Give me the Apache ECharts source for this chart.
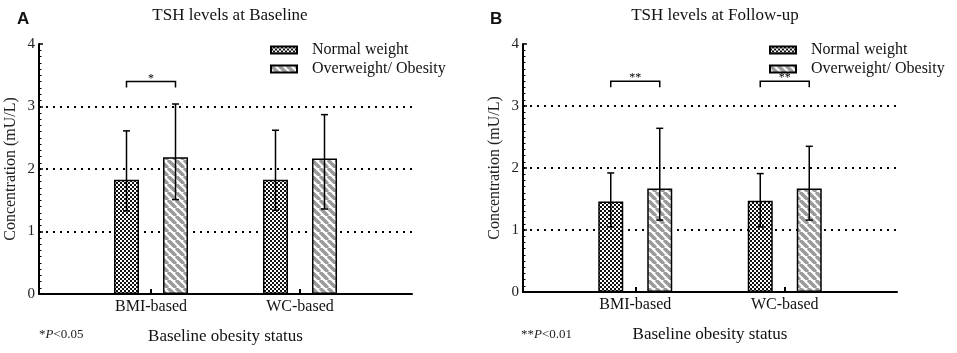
<!DOCTYPE html>
<html>
<head>
<meta charset="utf-8">
<script src="https://cdn.jsdelivr.net/npm/echarts@6/dist/echarts.min.js"></script>
<style>
  html, body { margin: 0; padding: 0; background: #fff; }
  #chart { width: 957px; height: 353px; }
</style>
</head>
<body>
<div id="chart"></div>
<script>
// categories and values (mU/L)
const categories = ['BMI-based', 'WC-based'];
const seriesNames = ['Normal weight', 'Overweight/ Obesity'];

const baseNormal = [1.83, 1.83];
const baseOver = [2.19, 2.17];
const baseNormalLow = [1.33, 1.34];
const baseNormalHigh = [2.61, 2.62];
const baseOverLow = [1.51, 1.36];
const baseOverHigh = [3.04, 2.87];
const baseSigMarks = ['*', ''];

const followNormal = [1.46, 1.47];
const followOver = [1.67, 1.67];
const followNormalLow = [1.05, 1.05];
const followNormalHigh = [1.92, 1.91];
const followOverLow = [1.16, 1.16];
const followOverHigh = [2.64, 2.35];
const followSigMarks = ['**', '**'];

const sigLevel = 3.4;
const yTicks = [0, 1, 2, 3, 4];

const SERIF = '"Liberation Serif", "DejaVu Serif", serif';
const BAR_OFFSET = 24.5;

function makeChecker() {
  const c = document.createElement('canvas');
  c.width = 4; c.height = 4;
  const ctx = c.getContext('2d');
  ctx.fillStyle = '#111';
  ctx.fillRect(0, 0, 4, 4);
  ctx.fillStyle = '#fff';
  ctx.fillRect(0, 0, 2, 2);
  ctx.fillRect(2, 2, 2, 2);
  return c;
}

function makeStripes() {
  const s = 8;
  const c = document.createElement('canvas');
  c.width = s; c.height = s;
  const ctx = c.getContext('2d');
  ctx.fillStyle = '#fff';
  ctx.fillRect(0, 0, s, s);
  ctx.strokeStyle = '#9a9a9a';
  ctx.lineWidth = 3.5;
  [-s, 0, s].forEach(d => {
    ctx.beginPath();
    ctx.moveTo(d, 0);
    ctx.lineTo(d + s, s);
    ctx.stroke();
  });
  return c;
}

const checker = { image: makeChecker(), repeat: 'repeat' };
const stripes = { image: makeStripes(), repeat: 'repeat' };

function errRender(offset) {
  return function (params, api) {
    const cx = api.coord([api.value(0), 0])[0] + offset;
    const lo = api.coord([api.value(0), api.value(1)])[1];
    const hi = api.coord([api.value(0), api.value(2)])[1];
    const st = { stroke: '#000', lineWidth: 1.5 };
    return {
      type: 'group',
      children: [
        { type: 'line', shape: { x1: cx, y1: lo, x2: cx, y2: hi }, style: st },
        { type: 'line', shape: { x1: cx - 3.5, y1: hi, x2: cx + 3.5, y2: hi }, style: st },
        { type: 'line', shape: { x1: cx - 3.5, y1: lo, x2: cx + 3.5, y2: lo }, style: st }
      ]
    };
  };
}

function sigRender(marks) {
  return function (params, api) {
    const mark = marks[params.dataIndex];
    if (!mark) return null;
    const c = api.coord([api.value(0), api.value(1)]);
    const x1 = c[0] - BAR_OFFSET, x2 = c[0] + BAR_OFFSET, y = c[1];
    const st = { stroke: '#000', lineWidth: 1.5, fill: null };
    return {
      type: 'group',
      children: [
        { type: 'polyline', shape: { points: [[x1, y + 6], [x1, y], [x2, y], [x2, y + 6]] }, style: st },
        { type: 'text', style: { text: mark, x: c[0], y: y + 3, align: 'center', verticalAlign: 'bottom', font: '12px ' + SERIF, fill: '#000' } }
      ]
    };
  };
}

function panelSeries(p, normal, over, nLow, nHigh, oLow, oHigh, marks) {
  const inner = 2 * p + 1;
  return [
    {
      name: seriesNames[0], type: 'bar', xAxisIndex: inner, yAxisIndex: inner,
      data: normal, barWidth: 25, barGap: '96%',
      itemStyle: { color: checker, borderColor: '#000', borderWidth: 1.5 }
    },
    {
      name: seriesNames[1], type: 'bar', xAxisIndex: inner, yAxisIndex: inner,
      data: over, barWidth: 25, barGap: '96%',
      itemStyle: { color: stripes, borderColor: '#000', borderWidth: 1.5 }
    },
    {
      type: 'custom', xAxisIndex: inner, yAxisIndex: inner, z: 5,
      renderItem: errRender(-BAR_OFFSET),
      data: categories.map((c, i) => [c, nLow[i], nHigh[i]])
    },
    {
      type: 'custom', xAxisIndex: inner, yAxisIndex: inner, z: 5,
      renderItem: errRender(BAR_OFFSET),
      data: categories.map((c, i) => [c, oLow[i], oHigh[i]])
    },
    {
      type: 'custom', xAxisIndex: inner, yAxisIndex: inner, z: 8,
      renderItem: sigRender(marks),
      data: categories.map(c => [c, sigLevel])
    }
  ];
}

const outerGrids = [
  { left: 39, width: 373, top: 44, bottom: 59 },
  { left: 523, width: 374, top: 44, bottom: 61 }
];

const grids = [];
const xAxes = [];
const yAxes = [];
outerGrids.forEach((g, p) => {
  grids.push(g);
  grids.push({ left: g.left + 37.5, width: g.width - 75, top: g.top, bottom: g.bottom });
  // outer axes: long x axis line, y axis with ticks and dotted grid
  xAxes.push({
    gridIndex: 2 * p, type: 'value', min: 0, max: 1,
    name: 'Baseline obesity status', nameLocation: 'middle', nameGap: 34,
    nameTextStyle: { fontFamily: SERIF, fontSize: 17, color: '#111' },
    axisLine: { show: true, onZero: false, lineStyle: { color: '#000', width: 2 } },
    axisTick: { show: false }, axisLabel: { show: false }, splitLine: { show: false }
  });
  yAxes.push({
    gridIndex: 2 * p, type: 'value', min: yTicks[0], max: yTicks[yTicks.length - 1], interval: 1,
    name: 'Concentration (mU/L)', nameLocation: 'middle', nameGap: 20,
    nameTextStyle: { fontFamily: SERIF, fontSize: 16, color: '#222' },
    axisLine: { show: true, lineStyle: { color: '#000', width: 2 } },
    axisTick: { show: true, inside: true, length: 4, lineStyle: { color: '#000', width: 1.5 } },
    minorTick: { show: true, splitNumber: 10, length: 2.5, lineStyle: { color: '#000', width: 1 } },
    axisLabel: { fontFamily: SERIF, fontSize: 15, color: '#222', margin: 4 },
    splitLine: { show: true, showMinLine: false, showMaxLine: false,
      lineStyle: { color: '#000', width: 2, type: [2, 5] } }
  });
  // inner axes: categories for the bars
  xAxes.push({
    gridIndex: 2 * p + 1, type: 'category', data: categories,
    axisLine: { show: false },
    axisTick: { show: true, inside: true, alignWithLabel: true, length: 5, lineStyle: { color: '#000', width: 2 } },
    axisLabel: { fontFamily: SERIF, fontSize: 16, color: '#111', margin: 5 },
    splitLine: { show: false }
  });
  yAxes.push({
    gridIndex: 2 * p + 1, type: 'value', min: yTicks[0], max: yTicks[yTicks.length - 1],
    show: false, splitLine: { show: false }
  });
});

const legendBase = {
  orient: 'vertical', itemWidth: 26, itemHeight: 7, itemGap: 3, z: 2,
  data: seriesNames, selectedMode: false, icon: 'rect',
  textStyle: { fontFamily: SERIF, fontSize: 16, color: '#111', padding: [0, 0, 0, 10] }
};

const titleFoot = {
  fontFamily: SERIF, fontWeight: 'normal', fontSize: 13, color: '#222',
  rich: { i: { fontFamily: SERIF, fontStyle: 'italic', fontSize: 13, color: '#222' } }
};

const option = {
  animation: false,
  title: [
    { text: 'A', left: 12, top: 6, textStyle: { fontFamily: '"Liberation Sans", Arial, sans-serif', fontWeight: 'bold', fontSize: 17, color: '#111' } },
    { text: 'TSH levels at Baseline', left: 225, top: 2, textAlign: 'center', textStyle: { fontFamily: SERIF, fontWeight: 'normal', fontSize: 17, color: '#111' } },
    { text: 'B', left: 485, top: 6, textStyle: { fontFamily: '"Liberation Sans", Arial, sans-serif', fontWeight: 'bold', fontSize: 17, color: '#111' } },
    { text: 'TSH levels at Follow-up', left: 710, top: 2, textAlign: 'center', textStyle: { fontFamily: SERIF, fontWeight: 'normal', fontSize: 17, color: '#111' } },
    { text: '*{i|P}<0.05', left: 34, top: 323, textStyle: titleFoot },
    { text: '**{i|P}<0.01', left: 516, top: 323, textStyle: titleFoot }
  ],
  legend: [
    Object.assign({ left: 265, top: 37 }, legendBase),
    Object.assign({ left: 764, top: 37 }, legendBase)
  ],
  grid: grids,
  xAxis: xAxes,
  yAxis: yAxes,
  series: [].concat(
    panelSeries(0, baseNormal, baseOver, baseNormalLow, baseNormalHigh, baseOverLow, baseOverHigh, baseSigMarks),
    panelSeries(1, followNormal, followOver, followNormalLow, followNormalHigh, followOverLow, followOverHigh, followSigMarks)
  )
};

const chart = echarts.init(document.getElementById('chart'));
chart.setOption(option);
</script>
</body>
</html>
